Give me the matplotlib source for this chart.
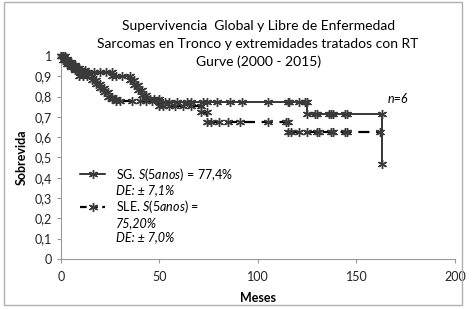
import matplotlib
matplotlib.use("Agg")
import matplotlib.pyplot as plt
from matplotlib.lines import Line2D
from matplotlib.patches import Rectangle
import numpy as np

plt.rcParams['font.family'] = ['Lato', 'DejaVu Sans']
plt.rcParams['mathtext.fontset'] = 'custom'
plt.rcParams['mathtext.rm'] = 'Lato'
plt.rcParams['mathtext.it'] = 'Lato:italic'

# Supervivencia global (SG): step times and survival
sg_time = [0, 2, 3, 5, 7, 9, 12, 26, 35, 37, 39, 41, 43, 50, 125]
sg_surv = [1.0, 0.985, 0.97, 0.955, 0.94, 0.93, 0.92, 0.90, 0.88, 0.855, 0.83, 0.81, 0.79, 0.774, 0.713]
sg_end = 163
sg_last = 0.47
sg_cens = [1, 4, 6, 8, 10, 14, 17, 20, 23, 28, 31, 45, 47, 53, 55, 59, 64, 66, 72, 74, 79,
           86, 92, 105, 115, 116, 121, 124, 129, 130, 136, 137, 138, 144, 145]

# Supervivencia libre de enfermedad (SLE)
sle_time = [0, 1, 3, 5, 7, 9, 16, 18, 20, 22, 24, 26, 28, 50, 71, 74, 115]
sle_surv = [1.0, 0.98, 0.96, 0.945, 0.93, 0.90, 0.88, 0.86, 0.84, 0.82, 0.80, 0.79, 0.776,
            0.752, 0.726, 0.676, 0.624]
sle_end = 162
sle_cens = [2, 4, 6, 8, 11, 13, 30, 36, 40, 43, 46, 52, 55, 58, 62, 66, 76, 80, 85, 91, 105,
            114, 117, 121, 125, 130, 131, 137, 138, 144, 145]

title_lines = ["Supervivencia  Global y Libre de Enfermedad",
               "Sarcomas en Tronco y extremidades tratados con RT",
               "Gurve (2000 - 2015)"]
xticks = [0, 50, 100, 150, 200]
yticks = np.round(np.arange(0, 1.01, 0.1), 1)

fig = plt.figure(figsize=(4.72, 3.09), dpi=100)
fig.patches.append(Rectangle((0.008, 0.012), 0.97, 0.982, transform=fig.transFigure,
                             fill=False, edgecolor='#b0b0b0', lw=1))
ax = fig.add_axes([0.129, 0.162, 0.835, 0.657])

asterisk = (6, 2, 0)
mk = dict(marker=asterisk, ms=6.5, mec='#3a3a3a', mew=1.0, clip_on=False, zorder=3)


def km_xy(times, surv, end):
    xs, ys = [], []
    for i, (t, s) in enumerate(zip(times, surv)):
        if i > 0:
            xs.append(t)
            ys.append(surv[i - 1])
        xs.append(t)
        ys.append(s)
    xs.append(end)
    ys.append(surv[-1])
    return np.array(xs), np.array(ys)


def surv_at(times, surv, t):
    idx = np.searchsorted(times, t, side='right') - 1
    return np.array(surv)[idx]


# SG solid
x, y = km_xy(sg_time, sg_surv, sg_end)
x = np.append(x, sg_end)
y = np.append(y, sg_last)
ax.plot(x, y, color='black', lw=1.1, **mk)
ax.plot(sg_cens, surv_at(sg_time, sg_surv, sg_cens), ls='none', **mk)

# SLE dashed
x, y = km_xy(sle_time, sle_surv, sle_end)
ax.plot(x, y, color='black', lw=1.6, ls=(0, (5, 3)), **mk)
ax.plot(sle_cens, surv_at(sle_time, sle_surv, sle_cens), ls='none', **mk)

ax.set_xlim(0, 200)
ax.set_ylim(0, 1)
ax.set_xticks(xticks)
ax.set_yticks(yticks)
ax.set_yticklabels([('%g' % v).replace('.', ',') for v in yticks])
for s in ['top', 'right']:
    ax.spines[s].set_visible(False)
for s in ['left', 'bottom']:
    ax.spines[s].set_color('#999999')
ax.tick_params(direction='out', length=3, color='#999999', labelsize=9, colors='#222222')
ax.tick_params(axis='x', pad=6)
ax.set_xlabel('Meses', fontsize=9, fontweight='bold', labelpad=6)
ax.set_ylabel('Sobrevida', fontsize=9, fontweight='bold', labelpad=5)

for i, line in enumerate(title_lines):
    fig.text(0.547, 0.915 - i * 0.057, line, ha='center', va='center', fontsize=10)

ax.text(0.855, 0.79, 'n=6', transform=ax.transAxes, fontsize=9, style='italic',
        ha='center', va='center')

h_sg = Line2D([], [], color='black', lw=1.1, marker=asterisk, ms=6.5, mec='#3a3a3a', mew=1.0)
h_sle = Line2D([], [], color='black', lw=1.6, ls=(0, (3, 2)), marker=asterisk, ms=6.5,
               mec='#3a3a3a', mew=1.0)
blank = Line2D([], [], color='none')
labels = [r'SG. $\mathit{S(5anos)\,{=}\,77{,}4\%}$', 'DE: ± 7,1%',
          r'SLE. $\mathit{S(5anos)\,{=}}$', '75,20%', 'DE: ± 7,0%']
leg = ax.legend([h_sg, blank, h_sle, blank, blank], labels, loc='upper left',
                bbox_to_anchor=(0.02, 0.515), frameon=False, fontsize=9, labelspacing=0.15,
                handlelength=2.0, handletextpad=0.9, numpoints=1)
for i in (1, 3, 4):
    leg.get_texts()[i].set_style('italic')

fig.savefig('out.png', dpi=100)
